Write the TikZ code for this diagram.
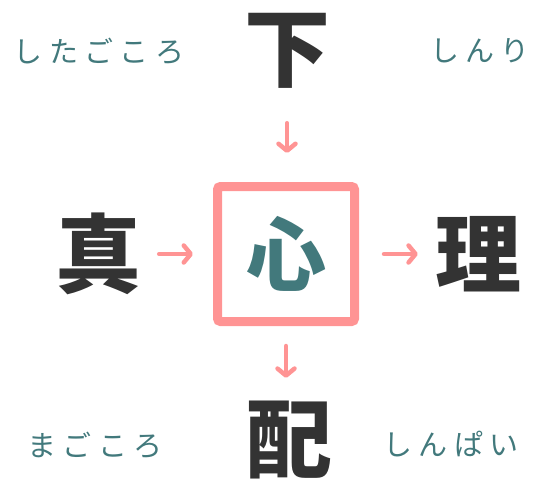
\documentclass[tikz,border=0pt]{standalone}
\usepackage{fontspec}
\usetikzlibrary{positioning,arrows.meta}
\newfontfamily\jpfont{Noto Sans CJK JP}
\newfontfamily\kanafont[LetterSpace=22]{Noto Sans CJK JP}
\definecolor{kokoropink}{HTML}{FF9494}
\definecolor{kokoroteal}{HTML}{42797C}
\definecolor{kanjigray}{HTML}{333333}
\tikzset{kanji/.style={font=\jpfont\bfseries\fontsize{86}{86}\selectfont,text=kanjigray,minimum size=100,inner sep=0}}
\tikzset{yomi/.style={font=\kanafont\fontsize{29}{29}\selectfont,text=kokoroteal,inner sep=0}}
\tikzset{arr/.style={-{Straight Barb[round,length=7pt,width=17pt]},draw=kokoropink,line width=4.5,line cap=round}}
\tikzset{center box/.style={draw=kokoropink,line width=9,rounded corners=3,minimum width=137,minimum height=135,inner sep=0}}

\begin{document}
\begin{tikzpicture}[x=1pt,y=-1pt]
  \useasboundingbox (0,0) rectangle (554,488);
  \node[center box,font=\jpfont\bfseries\fontsize{80}{80}\selectfont,text=kokoroteal] (shin) at (286,254) {心};

  \node[kanji] (shita) at (287,51) {下};
  \node[kanji] (ma) at (98,254) {真};
  \node[kanji] (ri) at (478,254) {理};
  \node[kanji] (hai) at (289,440) {配};

  \draw[arr,shorten <=22,shorten >=29] (shita.south) -- (shita.south |- shin.north);
  \draw[arr,shorten <=11,shorten >=20] (ma.east) -- (ma.east -| shin.west);
  \draw[arr,shorten <=25,shorten >=10] (shin.east) -- (shin.east -| ri.west);
  \draw[arr,shorten <=20,shorten >=12] (shin.south) -- (shin.south |- hai.north);

  % readings
  \node[yomi] (shitagokoro) at (99,51) {したごころ};
  \node[yomi] (shinri) at (480,51) {しんり};
  \node[yomi] (magokoro) at (95,445) {まごころ};
  \node[yomi] (shinpai) at (451,444) {しんぱい};
\end{tikzpicture}
\end{document}
